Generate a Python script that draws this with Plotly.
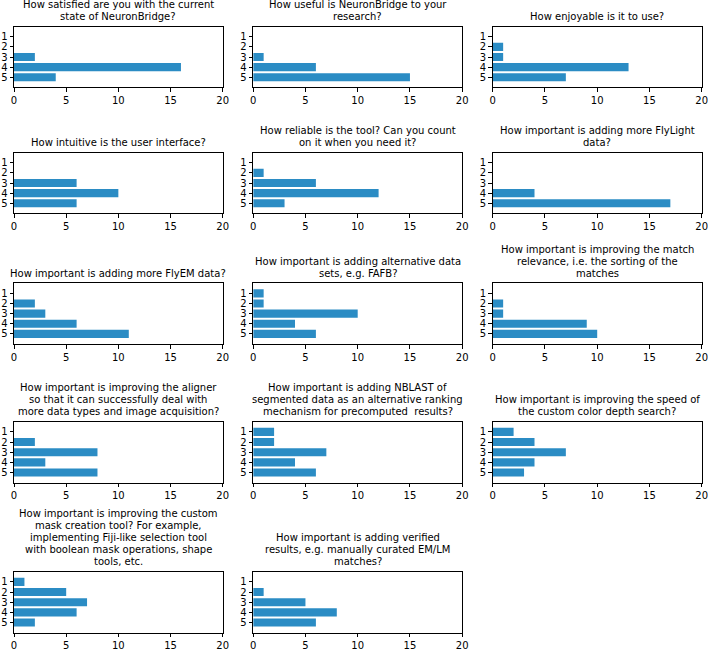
import plotly.graph_objects as go

# ---------------- data ----------------
ratings = [1, 2, 3, 4, 5]
x_ticks = [0, 5, 10, 15, 20]

satisfied = [0, 0, 2, 16, 4]
useful = [0, 0, 1, 6, 15]
enjoyable = [0, 1, 1, 13, 7]
intuitive = [0, 0, 6, 10, 6]
reliable = [0, 1, 6, 12, 3]
flylight = [0, 0, 0, 4, 17]
flyem = [0, 2, 3, 6, 11]
alt_data = [1, 1, 10, 4, 6]
match_rel = [0, 1, 1, 9, 10]
aligner = [0, 2, 8, 3, 8]
nblast = [2, 2, 7, 4, 6]
cds_speed = [2, 4, 7, 4, 3]
mask_tool = [1, 5, 7, 6, 2]
verified = [0, 1, 5, 8, 6]

titles = [
    ["How satisfied are you with the current", "state of NeuronBridge?"],
    ["How useful is NeuronBridge to your", "research?"],
    ["How enjoyable is it to use?"],
    ["How intuitive is the user interface?"],
    ["How reliable is the tool? Can you count", "on it when you need it?"],
    ["How important is adding more FlyLight", "data?"],
    ["How important is adding more FlyEM data?"],
    ["How important is adding alternative data", "sets, e.g. FAFB?"],
    ["How important is improving the match", "relevance, i.e. the sorting of the", "matches"],
    ["How important is improving the aligner", "so that it can successfully deal with",
     "more data types and image acquisition?"],
    ["How important is adding NBLAST of", "segmented data as an alternative ranking",
     "mechanism for precomputed  results?"],
    ["How important is improving the speed of", "the custom color depth search?"],
    ["How important is improving the custom", "mask creation tool? For example,",
     "implementing Fiji-like selection tool", "with boolean mask operations, shape",
     "tools, etc."],
    ["How important is adding verified", "results, e.g. manually curated EM/LM", "matches?"],
]
series = [satisfied, useful, enjoyable, intuitive, reliable, flylight, flyem,
          alt_data, match_rel, aligner, nblast, cds_speed, mask_tool, verified]

# ---------------- layout geometry (pixels) ----------------
W, H = 708, 650
rows_px = [(26.7, 87.3), (152.7, 213.3), (283.3, 344.0), (421.7, 482.7), (571.7, 632.7)]
cols_px = [(14.0, 222.7), (253.2, 462.2), (492.7, 701.7)]
BAR_COLOR = "#2b8cc4"
FONT = "DejaVu Sans"

fig = go.Figure()
layout = dict(
    width=W, height=H, autosize=False,
    margin=dict(l=0, r=0, t=0, b=0, pad=0),
    paper_bgcolor="white", plot_bgcolor="white",
    showlegend=False,
    font=dict(family=FONT, size=10, color="black"),
    bargap=0.2,
)
annotations = []

for i, (vals, title) in enumerate(zip(series, titles)):
    r, c = divmod(i, 3)
    top, bot = rows_px[r]
    left, right = cols_px[c]
    k = i + 1
    xa = "x" if k == 1 else f"x{k}"
    ya = "y" if k == 1 else f"y{k}"
    fig.add_trace(go.Bar(
        x=vals, y=ratings, orientation="h", width=0.8,
        marker=dict(color=BAR_COLOR, line=dict(width=0)),
        xaxis=xa, yaxis=ya, hoverinfo="x+y",
    ))
    xkey = "xaxis" if k == 1 else f"xaxis{k}"
    ykey = "yaxis" if k == 1 else f"yaxis{k}"
    layout[xkey] = dict(
        domain=[left / W, right / W], anchor=ya, range=[0, 20],
        tickvals=x_ticks, ticktext=[str(t) for t in x_ticks],
        ticks="outside", ticklen=3.5, tickwidth=0.8, tickcolor="black",
        showline=True, linecolor="black", linewidth=1, mirror=True,
        showgrid=False, zeroline=False, automargin=False,
        ticklabeloverflow="allow",
        tickfont=dict(family=FONT, size=10, color="black"), fixedrange=True,
    )
    layout[ykey] = dict(
        domain=[1 - bot / H, 1 - top / H], anchor=xa, range=[6, 0],
        tickvals=ratings, ticktext=[str(v) for v in ratings],
        ticks="outside", ticklen=3.5, tickwidth=0.8, tickcolor="black",
        showline=True, linecolor="black", linewidth=1, mirror=True,
        showgrid=False, zeroline=False, automargin=False,
        ticklabeloverflow="allow",
        tickfont=dict(family=FONT, size=10, color="black"), fixedrange=True,
    )
    # title lines, last line ~10px above the box, 12px line spacing
    n = len(title)
    cx = (left + right) / 2 / W
    for j, line in enumerate(title):
        ypx = top - 10 - 12 * (n - 1 - j)
        annotations.append(dict(
            text=line.replace("  ", " &nbsp;"), xref="paper", yref="paper",
            x=cx, y=1 - ypx / H, xanchor="center", yanchor="middle",
            showarrow=False, font=dict(family=FONT, size=10, color="black"),
        ))

layout["annotations"] = annotations
fig.update_layout(**layout)
fig.write_html(
    "out.html",
    config={"displayModeBar": False},
    post_script="document.body.style.margin='0px';document.body.style.overflow='hidden';",
)
